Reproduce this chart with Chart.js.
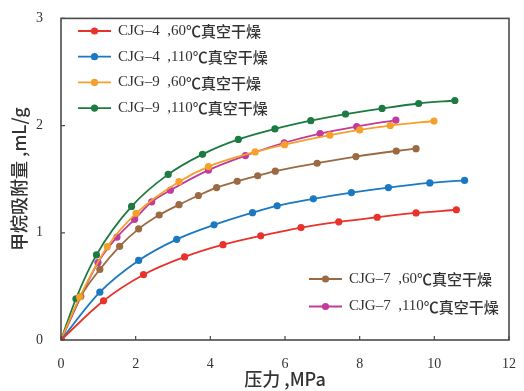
<!DOCTYPE html>
<html>
<head>
<meta charset="utf-8">
<script src="https://cdn.jsdelivr.net/npm/chart.js@4.4.0/dist/chart.umd.min.js"></script>
<style>
  html, body { margin: 0; padding: 0; background: #fff; }
  #wrap { width: 524px; height: 391px; }
</style>
</head>
<body>
<div id="wrap"><canvas id="adsorption"></canvas></div>
<script>
// 压力 MPa / 吸附量 mL/g
const seriesNames = [
  'CJG–4  ,60℃真空干燥',
  'CJG–4  ,110℃真空干燥',
  'CJG–9  ,60℃真空干燥',
  'CJG–9  ,110℃真空干燥',
  'CJG–7  ,60℃真空干燥',
  'CJG–7  ,110℃真空干燥'
];
const seriesColors = ['#e8322c', '#1b78c2', '#f5a02a', '#1d7a40', '#9b6a42', '#c13a9c'];

const cjg4_60_x = [0, 1.14, 2.21, 3.31, 4.34, 5.35, 6.43, 7.44, 8.47, 9.51, 10.59];
const cjg4_60_y = [0, 0.366, 0.609, 0.775, 0.889, 0.972, 1.049, 1.102, 1.145, 1.185, 1.215];

const cjg4_110_x = [0, 1.04, 2.08, 3.10, 4.10, 5.13, 5.79, 6.76, 7.78, 8.77, 9.88, 10.81];
const cjg4_110_y = [0, 0.446, 0.742, 0.939, 1.074, 1.188, 1.252, 1.317, 1.375, 1.422, 1.465, 1.489];

const cjg9_60_x = [0, 0.50, 1.24, 2.01, 3.16, 3.95, 5.20, 5.99, 7.20, 8.00, 8.82, 9.99];
const cjg9_60_y = [0, 0.40, 0.871, 1.182, 1.477, 1.618, 1.754, 1.822, 1.911, 1.960, 2.000, 2.043];

const cjg9_110_x = [0, 0.40, 0.95, 1.89, 2.87, 3.79, 4.75, 5.73, 6.69, 7.62, 8.60, 9.58, 10.55];
const cjg9_110_y = [0, 0.385, 0.794, 1.246, 1.545, 1.732, 1.871, 1.969, 2.046, 2.108, 2.160, 2.206, 2.234];

const cjg7_60_x = [0, 0.53, 1.04, 1.57, 2.08, 2.63, 3.16, 3.68, 4.17, 4.72, 5.27, 5.74, 6.86, 7.90, 8.98, 9.51];
const cjg7_60_y = [0, 0.406, 0.658, 0.874, 1.037, 1.166, 1.262, 1.348, 1.422, 1.480, 1.532, 1.575, 1.649, 1.711, 1.763, 1.785];

const cjg7_110_x = [0, 0.99, 1.50, 1.97, 2.43, 2.93, 3.95, 4.94, 5.98, 6.94, 7.92, 8.97];
const cjg7_110_y = [0, 0.723, 0.960, 1.126, 1.289, 1.397, 1.585, 1.720, 1.840, 1.926, 1.991, 2.052];

const xTicks = [0, 2, 4, 6, 8, 10, 12];
const yTicks = [0, 1, 2, 3];

const allX = [cjg4_60_x, cjg4_110_x, cjg9_60_x, cjg9_110_x, cjg7_60_x, cjg7_110_x];
const allY = [cjg4_60_y, cjg4_110_y, cjg9_60_y, cjg9_110_y, cjg7_60_y, cjg7_110_y];
// 图例分两组：左上 4 条，右下 2 条
const legendGroup = [0, 0, 0, 0, 1, 1];

const serif = '"Liberation Serif", "Noto Sans CJK SC", serif';
const cjk = '"Noto Sans CJK SC", sans-serif';

const datasets = seriesNames.map(function(name, i) {
  return {
    label: name,
    data: allX[i].map((x, j) => ({ x: x, y: allY[i][j] })),
    borderColor: seriesColors[i],
    backgroundColor: seriesColors[i],
    borderWidth: 1.8,
    pointRadius: 3.6,
    pointHoverRadius: 3.6,
    pointBorderWidth: 0,
    showLine: true,
    tension: 0.4,
    cubicInterpolationMode: 'monotone'
  };
});

// 边框 + 向内刻度 + 分组图例
const framePlugin = {
  id: 'frame',
  afterDraw(chart) {
    const ctx = chart.ctx;
    const a = chart.chartArea;
    const xs = chart.scales.x, ys = chart.scales.y;
    ctx.save();
    ctx.strokeStyle = '#4a4a4a';
    ctx.lineWidth = 1.6;
    ctx.strokeRect(a.left, a.top, a.right - a.left, a.bottom - a.top);
    ctx.lineWidth = 1.2;
    ctx.beginPath();
    xTicks.forEach(function(v) {
      const px = xs.getPixelForValue(v);
      ctx.moveTo(px, a.bottom);
      ctx.lineTo(px, a.bottom - 4);
    });
    yTicks.forEach(function(v) {
      const py = ys.getPixelForValue(v);
      ctx.moveTo(a.left, py);
      ctx.lineTo(a.left + 4, py);
    });
    ctx.stroke();

    const groups = [
      { x: 78, y: 31, step: 25.7 },
      { x: 309, y: 279, step: 27.5 }
    ];
    const counters = [0, 0];
    ctx.textBaseline = 'middle';
    chart.data.datasets.forEach(function(ds, i) {
      const g = groups[legendGroup[i]];
      const yy = g.y + counters[legendGroup[i]] * g.step;
      counters[legendGroup[i]]++;
      ctx.strokeStyle = ds.borderColor;
      ctx.lineWidth = 1.8;
      ctx.beginPath();
      ctx.moveTo(g.x, yy);
      ctx.lineTo(g.x + 33, yy);
      ctx.stroke();
      ctx.fillStyle = ds.backgroundColor;
      ctx.beginPath();
      ctx.arc(g.x + 16.5, yy, 3.6, 0, Math.PI * 2);
      ctx.fill();
      // 拉丁部分用衬线体，℃ 与汉字用黑体
      const cut = ds.label.indexOf('℃');
      const latin = ds.label.slice(0, cut);
      const han = ds.label.slice(cut);
      ctx.fillStyle = '#333';
      ctx.font = '15px ' + serif;
      ctx.fillText(latin, g.x + 40, yy);
      const w = ctx.measureText(latin).width;
      ctx.font = '500 15px ' + cjk;
      ctx.fillText(han, g.x + 40 + w, yy + 0.5);
    });
    ctx.restore();
  }
};

new Chart(document.getElementById('adsorption'), {
  type: 'scatter',
  data: { datasets: datasets },
  options: {
    responsive: true,
    maintainAspectRatio: false,
    animation: false,
    layout: { padding: { top: 15, right: 12, left: 0, bottom: 0 } },
    plugins: {
      legend: { display: false },
      tooltip: { enabled: false }
    },
    scales: {
      x: {
        type: 'linear',
        min: 0,
        max: 12,
        afterBuildTicks: function(s) { s.ticks = xTicks.map(v => ({ value: v })); },
        afterFit: function(s) { s.height = 51; },
        grid: { display: false },
        border: { display: false },
        ticks: {
          color: '#333',
          padding: 8,
          font: { family: serif, size: 14 }
        },
        title: {
          display: true,
          text: '压力 ,MPa',
          color: '#333',
          padding: { top: 0, bottom: 1 },
          font: { family: cjk, size: 18, weight: 500 }
        }
      },
      y: {
        type: 'linear',
        min: 0,
        max: 3,
        afterBuildTicks: function(s) { s.ticks = yTicks.map(v => ({ value: v })); },
        afterFit: function(s) { s.width = 61; },
        grid: { display: false },
        border: { display: false },
        ticks: {
          color: '#333',
          padding: 10,
          font: { family: serif, size: 14 }
        },
        title: {
          display: true,
          text: '甲烷吸附量 ,mL/g',
          color: '#333',
          padding: { top: 8, bottom: 0 },
          font: { family: cjk, size: 18, weight: 500 }
        }
      }
    }
  },
  plugins: [framePlugin]
});
</script>
</body>
</html>
